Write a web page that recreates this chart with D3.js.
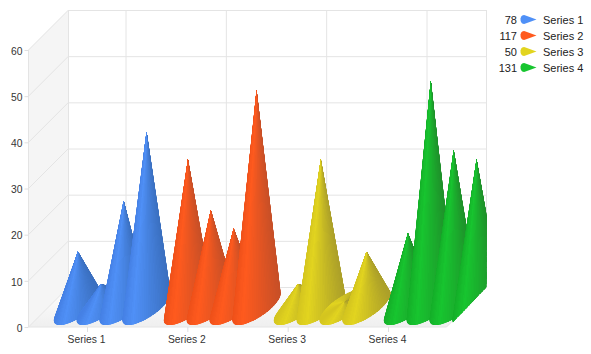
<!DOCTYPE html>
<html>
<head>
<meta charset="utf-8">
<script src="https://cdn.jsdelivr.net/npm/d3@7"></script>
<style>
    body { margin: 0; background: #fff; }
    text { font-family: "Liberation Sans", Arial, sans-serif; }
</style>
</head>
<body>
<div id="chart"></div>
<script>
let categories = ["Series 1", "Series 2", "Series 3", "Series 4"]

let series1 = [12, 5, 23, 38]
let series2 = [32, 21, 17, 47]
let series3 = [5, 32, 1, 12]
let series4 = [16, 49, 34, 32]
let allSeries = [series1, series2, series3, series4]

let yTicks = [0, 10, 20, 30, 40, 50, 60]

// edge, highlight, shadow for each series
let colors = [
    ["#4580e4", "#4f90f7", "#3a6fbf"],
    ["#ee5019", "#ff5a1e", "#c64f27"],
    ["#d4c51f", "#e2d41f", "#ab9f29"],
    ["#14ae28", "#17c52f", "#1f8f2a"]
]

const width = 591
const height = 354
const depth = 40
const baseHalfW = 16
const baseHalfD = 18

const y = d3.scaleLinear().domain([0, 60]).range([327, 50])
const xTicks = d3.scalePoint().domain(categories).range([87, 388])
const x0 = d3.scaleBand().domain(categories).range([37.5, 477.5])
const x1 = d3.scaleBand().domain(d3.range(4)).range([9, 100.5])

const svg = d3.select('#chart')
    .append('svg')
    .attr('width', width)
    .attr('height', height)
    .style('display', 'block')

const defs = svg.append('defs')

const floorGrad = defs.append('linearGradient')
    .attr('id', 'floorGrad')
    .attr('x1', 0).attr('y1', 0).attr('x2', 0).attr('y2', 1)
floorGrad.append('stop').attr('offset', 0).attr('stop-color', '#ffffff')
floorGrad.append('stop').attr('offset', 1).attr('stop-color', '#efefef')

const left = 28.5
const right = 446.5
const y0 = y(0)
const yTop = y(60)

defs.append('clipPath')
    .attr('id', 'plotClip')
    .append('polygon')
    .attr('points', [
        [left, y0 + 2], [left, yTop], [left + depth, yTop - depth],
        [right + depth, yTop - depth], [right + depth, y0 - depth], [right, y0 + 2]
    ].join(' '))

// walls
svg.append('polygon')
    .attr('points', [[left, y0], [left, yTop], [left + depth, yTop - depth], [left + depth, y0 - depth]].join(' '))
    .attr('fill', '#f5f5f5')

svg.append('polygon')
    .attr('points', [[left, y0], [left + depth, y0 - depth], [right + depth, y0 - depth], [right, y0]].join(' '))
    .attr('fill', 'url(#floorGrad)')

const grid = svg.append('g')
    .attr('stroke', '#e4e4e4')
    .attr('fill', 'none')

grid.selectAll('.back')
    .data(yTicks)
    .join('line')
    .attr('x1', left + depth).attr('x2', right + depth)
    .attr('y1', d => y(d) - depth + 0.5).attr('y2', d => y(d) - depth + 0.5)

grid.selectAll('.side')
    .data(yTicks)
    .join('path')
    .attr('d', d => `M${left},${y(d)}L${left + depth},${y(d) - depth}`)

grid.selectAll('.vert')
    .data(categories)
    .join('line')
    .attr('x1', d => xTicks(d) + depth - 1)
    .attr('x2', d => xTicks(d) + depth - 1)
    .attr('y1', yTop - depth).attr('y2', y0 - depth)

grid.append('path')
    .attr('d', `M${left},${y0}V${yTop}M${left + depth},${yTop - depth}V${y0 - depth}M${right + depth},${yTop - depth}V${y0 - depth}L${right},${y0}H${left}`)

// axes
const yAxis = d3.axisLeft(y).tickValues(yTicks).tickSize(4).tickPadding(2)
svg.append('g')
    .attr('transform', `translate(${left},0)`)
    .call(yAxis)
    .call(styleAxis)
    .selectAll('.tick text')
    .attr('dy', '0.42em')

const xAxis = d3.axisBottom(xTicks).tickSize(5).tickPadding(4)
svg.append('g')
    .attr('transform', `translate(0,${y0})`)
    .call(xAxis)
    .call(styleAxis)
    .selectAll('.tick text')
    .attr('x', -1)

function styleAxis(g) {
    g.select('.domain').remove()
    g.selectAll('.tick line').attr('stroke', '#e0e0e0')
    g.selectAll('.tick text')
        .attr('fill', '#333')
        .style('font-family', '"Liberation Sans", Arial, sans-serif')
        .style('font-size', '10.3px')
}

// cones
const cones = svg.append('g').attr('clip-path', 'url(#plotClip)')
const segments = 72

allSeries.forEach((values, s) => {
    const shade = d3.scaleLinear()
        .domain([-1, -0.6, 1])
        .range(colors[s])
        .clamp(true)

    values.forEach((v, i) => {
        const cx = x0(categories[s]) + x1(i) + x1.bandwidth() / 2 + depth / 2
        const cy = y(0) - depth / 2
        const apex = [cx, y(v) - depth / 2]
        const halfX = Math.hypot(baseHalfW, baseHalfD)

        const point = t => [
            cx + baseHalfW * Math.cos(t) + baseHalfD * Math.sin(t),
            cy - baseHalfD * Math.sin(t)
        ]

        const angles = d3.range(segments).map(k => k / segments * 2 * Math.PI)
        const step = 2 * Math.PI / segments

        const facets = angles.map(a => {
            const p = point(a + step / 2)
            return {
                pts: [apex, point(a), point(a + step)],
                depthKey: p[1],
                color: shade((p[0] - cx) / halfX)
            }
        }).sort((m, n) => m.depthKey - n.depthKey)

        // the outline is clipped so the crisp facets still get a smooth edge
        const outline = d3.polygonHull(angles.map(point).concat([apex]))
        const clipId = `cone-${s}-${i}`
        defs.append('clipPath')
            .attr('id', clipId)
            .append('path')
            .attr('d', 'M' + outline.join('L') + 'Z')

        cones.append('g')
            .attr('clip-path', `url(#${clipId})`)
            .selectAll('path')
            .data(facets)
            .join('path')
            .attr('d', d => 'M' + d.pts.join('L') + 'Z')
            .attr('fill', d => d.color)
            .attr('stroke', d => d.color)
            .attr('stroke-width', 1)
            .attr('shape-rendering', 'crispEdges')
    })
})

// legend
const legendY = d3.scalePoint().domain(categories).range([19.5, 67.5])
const legend = svg.append('g')
    .selectAll('g')
    .data(categories)
    .join('g')
    .attr('transform', d => `translate(0,${legendY(d)})`)

legend.append('text')
    .attr('x', 517).attr('y', 4)
    .attr('text-anchor', 'end')
    .attr('font-size', 11)
    .attr('fill', '#222')
    .text((d, i) => d3.sum(allSeries[i]))

legend.append('path')
    .attr('d', () => {
        const pts = d3.range(24).map(k => {
            const t = k / 24 * 2 * Math.PI
            return [524 + 3.5 * Math.cos(t), 4.5 * Math.sin(t)]
        })
        pts.push([536.5, 0])
        return 'M' + d3.polygonHull(pts).join('L') + 'Z'
    })
    .attr('fill', (d, i) => colors[i][1])

legend.append('text')
    .attr('x', 543).attr('y', 4)
    .attr('font-size', 11)
    .attr('fill', '#222')
    .text(d => d)
</script>
</body>
</html>
